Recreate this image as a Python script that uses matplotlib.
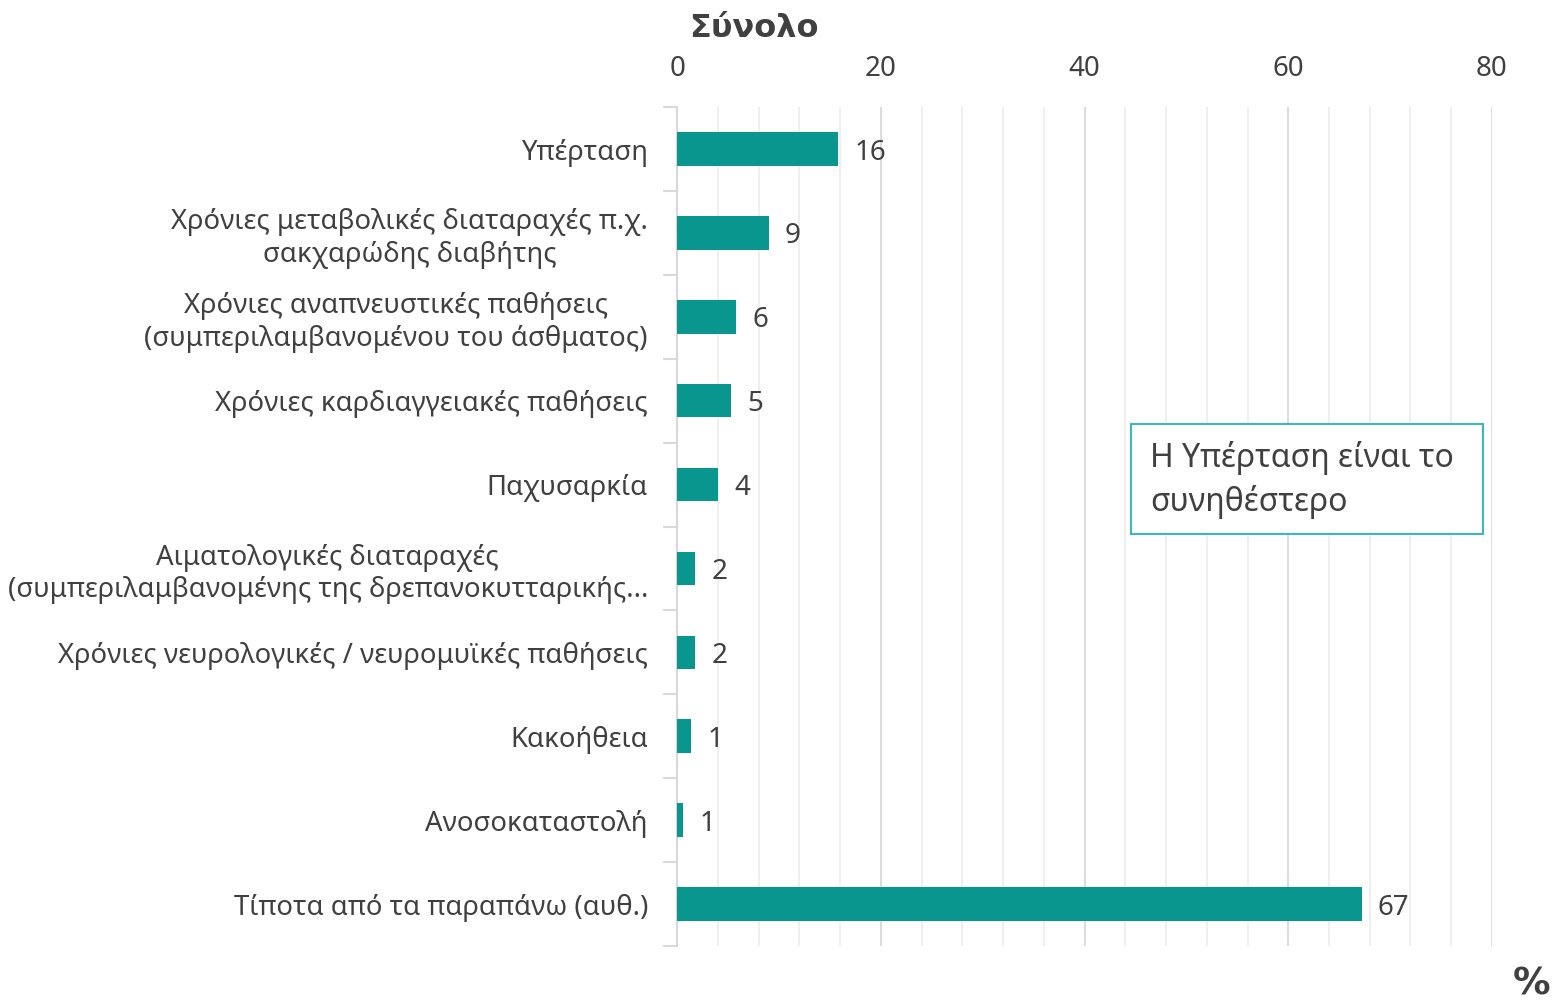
import matplotlib
matplotlib.use("Agg")
import matplotlib.pyplot as plt
from matplotlib.patches import Rectangle
from matplotlib.ticker import MultipleLocator, FixedLocator

plt.rcParams['font.family'] = ['Noto Sans', 'DejaVu Sans']

categories = [
    "Υπέρταση",
    "Χρόνιες μεταβολικές διαταραχές π.χ.\nσακχαρώδης διαβήτης",
    "Χρόνιες αναπνευστικές παθήσεις\n(συμπεριλαμβανομένου του άσθματος)",
    "Χρόνιες καρδιαγγειακές παθήσεις",
    "Παχυσαρκία",
    "Αιματολογικές διαταραχές\n(συμπεριλαμβανομένης της δρεπανοκυτταρικής...",
    "Χρόνιες νευρολογικές / νευρομυϊκές παθήσεις",
    "Κακοήθεια",
    "Ανοσοκαταστολή",
    "Τίποτα από τα παραπάνω (αυθ.)",
]
values = [15.8, 9.0, 5.8, 5.3, 4.0, 1.8, 1.8, 1.4, 0.6, 67.2]
value_labels = ["16", "9", "6", "5", "4", "2", "2", "1", "1", "67"]

bar_color = "#08968f"
text_color = "#404040"

fig = plt.figure(figsize=(15.53, 10.01), dpi=100)
ax = fig.add_axes([0.436, 0.055, 0.5247, 0.838])

y = list(range(len(categories)))
ax.barh(y, values, height=0.4, color=bar_color, zorder=3)
for yi, v, lab in zip(y, values, value_labels):
    ax.text(v + 1.6, yi, lab, va="center_baseline", ha="left", fontsize=20, color=text_color)

ax.set_xlim(0, 80)
ax.set_ylim(len(categories) - 0.5, -0.5)

ax.xaxis.tick_top()
ax.xaxis.set_major_locator(MultipleLocator(20))
ax.xaxis.set_minor_locator(MultipleLocator(4))
ax.tick_params(axis="x", which="both", length=0, pad=17, labelsize=20, labelcolor=text_color)
ax.grid(axis="x", which="major", color="#d9d9d9", linewidth=1.3, zorder=0)
ax.grid(axis="x", which="minor", color="#eeeeee", linewidth=1.3, zorder=0)

ax.set_yticks(y)
ax.set_yticklabels(categories, fontsize=19.8, color=text_color, multialignment="center")
ax.yaxis.set_minor_locator(FixedLocator([i - 0.5 for i in range(len(categories) + 1)]))
ax.tick_params(axis="y", which="major", length=0, pad=21)
ax.tick_params(axis="y", which="minor", length=10, color="#d9d9d9", width=1.5)

for s in ["top", "right", "bottom"]:
    ax.spines[s].set_visible(False)
ax.spines["left"].set_color("#d9d9d9")
ax.spines["left"].set_linewidth(1.5)

fig.text(0.444, 0.972, "Σύνολο", fontsize=23, fontweight="heavy", color=text_color,
         ha="left", va="center", family=["DejaVu Sans"])
fig.text(0.998, 0.016, "%", fontsize=27, fontweight="bold", color=text_color,
         ha="right", va="center", family=["DejaVu Sans"])

# annotation box
box = Rectangle((1131 / 1553, 1 - 534 / 1001), (1483 - 1131) / 1553, (534 - 424) / 1001,
                transform=fig.transFigure, facecolor="white", edgecolor="#3fb6b9",
                linewidth=1.5, zorder=5)
fig.add_artist(box)
fig.text(1150 / 1553, 1 - 480 / 1001, "Η Υπέρταση είναι το\nσυνηθέστερο", fontsize=23,
         color=text_color, ha="left", va="center", linespacing=1.35, zorder=6)

fig.savefig("out.png", dpi=100)
